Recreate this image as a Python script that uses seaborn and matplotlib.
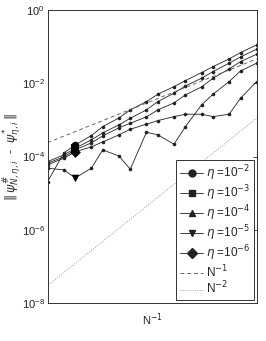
import numpy as np
import pandas as pd
import seaborn as sns
import matplotlib
matplotlib.use("Agg")
import matplotlib.pyplot as plt
from matplotlib.lines import Line2D

# grid sizes, x axis is 1/N
N = [768, 512, 384, 256, 192, 128, 96, 64, 48, 32, 24, 16, 12, 8, 6, 4]

err_eta2 = [2.08e-5, 1.24e-4, 2.08e-4, 3.73e-4, 6.57e-4, 1.13e-3, 1.88e-3, 3.16e-3,
            5.02e-3, 8.10e-3, 1.18e-2, 1.95e-2, 2.84e-2, 4.61e-2, 6.85e-2, 1.11e-1]
err_eta3 = [7.30e-5, 1.11e-4, 1.69e-4, 2.85e-4, 4.43e-4, 7.31e-4, 1.11e-3, 1.88e-3,
            3.16e-3, 5.35e-3, 8.46e-3, 1.37e-2, 2.08e-2, 3.52e-2, 5.23e-2, 8.48e-2]
err_eta4 = [6.60e-5, 9.80e-5, 1.52e-4, 2.36e-4, 3.66e-4, 6.05e-4, 8.13e-4, 1.21e-3,
            1.88e-3, 2.91e-3, 4.81e-3, 7.94e-3, 1.37e-2, 2.46e-2, 3.89e-2, 6.19e-2]
err_eta5 = [4.82e-5, 4.33e-5, 2.62e-5, 4.82e-5, 1.52e-4, 1.04e-4, 4.53e-5, 4.62e-4,
            3.90e-4, 2.18e-4, 6.57e-4, 2.57e-3, 5.02e-3, 1.11e-2, 2.17e-2, 3.52e-2]
err_eta6 = [5.93e-5, 9.03e-5, 1.34e-4, 1.84e-4, 2.51e-4, 3.90e-4, 5.58e-4, 7.64e-4,
            9.58e-4, 1.23e-3, 1.43e-3, 1.43e-3, 1.23e-3, 1.43e-3, 3.91e-3, 1.11e-2]

# reference slopes, values at the two ends (N=768 and N=4)
ref_N1 = [2.4e-4, 4.6e-2]
ref_N2 = [3.05e-8, 1.12e-3]

labels = [r'$\eta$ =10$^{-2}$', r'$\eta$ =10$^{-3}$', r'$\eta$ =10$^{-4}$',
          r'$\eta$ =10$^{-5}$', r'$\eta$ =10$^{-6}$']
markers = ['o', 's', '^', 'v', 'D']

sns.set_style("white")
plt.rcParams['font.family'] = ['Liberation Sans', 'DejaVu Sans']
plt.rcParams['mathtext.fontset'] = 'dejavusans'

x = 1.0 / np.array(N, dtype=float)
fig = plt.figure(figsize=(2.66, 3.41), dpi=100)
ax = fig.add_axes([0.179, 0.1106, 0.786, 0.8604])

series = [err_eta2, err_eta3, err_eta4, err_eta5, err_eta6]
lc = '#222222'
for vals, m in zip(series, markers):
    sns.lineplot(x=x, y=vals, ax=ax, color=lc, lw=0.6, marker='o',
                 markersize=2.6, markeredgewidth=0, legend=False)
    sns.scatterplot(x=[x[2]], y=[vals[2]], ax=ax, marker=m, s=30,
                    color='k', edgecolor='k', linewidth=0, legend=False,
                    zorder=5)

xe = [x[0], x[-1]]
sns.lineplot(x=xe, y=ref_N1, ax=ax, color='#666666', lw=0.7,
             linestyle=(0, (4, 3)), legend=False)
sns.lineplot(x=xe, y=ref_N2, ax=ax, color='#999999', lw=0.7,
             linestyle=(0, (1, 1.5)), legend=False)

ax.set_xscale('log')
ax.set_yscale('log')
ax.set_xlim(x[0], x[-1])
ax.set_ylim(1e-8, 1e0)
ax.set_xticks([])
ax.set_xticks([], minor=True)
ax.set_yticks([1e-8, 1e-6, 1e-4, 1e-2, 1e0])
ax.set_yticks([], minor=True)
ax.tick_params(axis='y', direction='in', length=3, width=0.6, right=True,
               labelsize=8, labelcolor='#222222', pad=2)
for s in ax.spines.values():
    s.set_linewidth(0.7)
    s.set_color('#333333')

ax.set_xlabel(r'N$^{-1}$', fontsize=8, color='#222222', labelpad=6)
ax.set_ylabel(r'$\Vert\,\psi^{\#}_{N,\eta,i}$  -  $\psi^{*}_{\eta,i}\,\Vert$',
              fontsize=9, color='#333333')
ax.yaxis.set_label_coords(-0.115, 0.5)

handles = [Line2D([], [], color=lc, lw=0.6, marker=m, markersize=5)
           for m in markers]
handles.append(Line2D([], [], color='#666666', lw=0.7, linestyle=(0, (4, 3))))
handles.append(Line2D([], [], color='#999999', lw=0.7, linestyle=(0, (1, 1.5))))
leg = ax.legend(handles, labels + [r'N$^{-1}$', r'N$^{-2}$'], loc='lower right',
                fontsize=8.5, handlelength=2.0, handletextpad=0.2,
                labelspacing=0.03, borderaxespad=0.25, borderpad=0.3,
                fancybox=False, framealpha=1)
leg.get_frame().set_edgecolor('#333333')
leg.get_frame().set_linewidth(0.7)

fig.savefig('out.png', dpi=100)
